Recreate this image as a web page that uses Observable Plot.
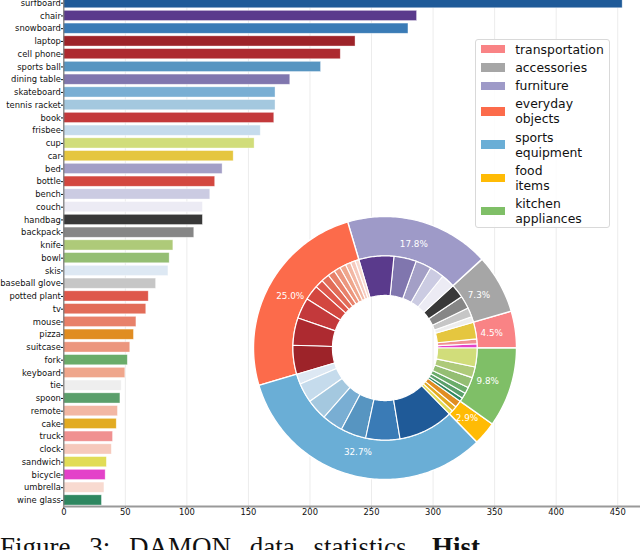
<!DOCTYPE html>
<html>
<head>
<meta charset="utf-8">
<script src="https://cdn.jsdelivr.net/npm/d3@7"></script>
<script src="https://cdn.jsdelivr.net/npm/@observablehq/plot@0.6"></script>
<style>
  html, body { margin: 0; padding: 0; background: #fff; }
  body { width: 640px; height: 550px; overflow: hidden; position: relative; font-family: "DejaVu Sans", sans-serif; }
  #chart { position: absolute; left: 0; top: 0; }
  #donut { position: absolute; }
  #legend { position: absolute; left: 475px; top: 39px; width: 133px; padding: 1.8px 0 1px 0;
            border: 1px solid #d9d9d9; border-radius: 3px; background: rgba(255,255,255,0.85);
            font-family: "DejaVu Sans", sans-serif; font-size: 12.4px; color: #111; }
  .entry { display: flex; align-items: center; margin-bottom: 3.2px; }
  .entry:last-child { margin-bottom: 0; }
  .patch { width: 23.6px; height: 8.3px; margin-left: 5.2px; margin-right: 10.4px; flex: none; }
  .lbl { line-height: 15px; }
  #caption { position: absolute; left: 0; top: 534px; white-space: nowrap;
             font-family: "Liberation Serif", "Times New Roman", serif; font-size: 27px; line-height: 27px;
             color: #111; word-spacing: 12px; }
</style>
</head>
<body>
<div id="chart"></div>
<div id="donut"></div>
<div id="legend"></div>
<div id="caption">Figure 3: DAMON data statistics. <b>Hist</b></div>
<script>
// ---------------- data ----------------
const categories = ["surfboard","chair","snowboard","laptop","cell phone","sports ball","dining table","skateboard","tennis racket","book",
  "frisbee","cup","car","bed","bottle","bench","couch","handbag","backpack","knife",
  "bowl","skis","baseball glove","potted plant","tv","mouse","pizza","suitcase","fork","keyboard",
  "tie","spoon","remote","cake","truck","clock","sandwich","bicycle","umbrella","wine glass"];
const counts = [454,287,280,237,225,209,184,172,172,171,
  160,155,138,129,123,119,113,113,106,89,
  86,85,75,69,67,59,57,54,52,50,
  47,46,44,43,40,39,35,34,33,31];
const barColors = ["#1f5a98","#5a3a8c","#3a7bb6","#9d2329","#ad2a30","#5795c1","#8076ae","#79aed3","#a4c8df","#c3393b",
  "#c5dbec","#d1dd7a","#e5c63f","#a39fc6","#d3473f","#cbcbe2","#ecebf4","#383838","#868686","#aeca79",
  "#94be73","#dde8f3","#c6c6c6","#de574b","#e26c58","#e8816a","#e08d22","#ec967e","#6aac6a","#efa68c",
  "#eeeeee","#5a9f6b","#f2b7a4","#e2ab22","#f09191","#f6c9bc","#e1dc57","#e342c9","#f8dad0","#2f8761"];
const categoryGroup = ["sports equipment","furniture","sports equipment","everyday objects","everyday objects","sports equipment","furniture","sports equipment","sports equipment","everyday objects",
  "sports equipment","kitchen appliances","transportation","furniture","everyday objects","furniture","furniture","accessories","accessories","kitchen appliances",
  "kitchen appliances","sports equipment","accessories","everyday objects","everyday objects","everyday objects","food items","everyday objects","kitchen appliances","everyday objects",
  "accessories","kitchen appliances","everyday objects","food items","transportation","everyday objects","food items","transportation","everyday objects","kitchen appliances"];
const groups = ["transportation","accessories","furniture","everyday objects","sports equipment","food items","kitchen appliances"];
const groupLabels = [["transportation"],["accessories"],["furniture"],["everyday","objects"],["sports","equipment"],["food","items"],["kitchen","appliances"]];
const groupColors = ["#f98385","#a6a6a6","#9e9ac8","#fc6b4b","#6aaed6","#ffbb05","#7fbf67"];
const xTicks = [0,50,100,150,200,250,300,350,400,450];

// ---------------- bar chart ----------------
const rows = categories.map((c, i) => ({name: c, count: counts[i], color: barColors[i], group: categoryGroup[i]}));

const bar = Plot.plot({
  width: 640, height: 525,
  marginLeft: 63.3, marginRight: 0, marginTop: 0, marginBottom: 19,
  style: {fontFamily: "DejaVu Sans, sans-serif", fontSize: "8.4px", color: "#111", background: "transparent", overflow: "visible"},
  x: {domain: [0, 468.5], ticks: xTicks, tickSize: 2, tickPadding: 0.8, label: null},
  y: {type: "band", domain: categories, range: [-3.7, 506.3], paddingInner: 0.2, paddingOuter: 0.1, round: false,
      tickSize: 2.3, tickPadding: 0.6, label: null},
  color: {type: "identity"},
  marks: [
    Plot.ruleX(xTicks, {stroke: "#ececec"}),
    Plot.barX(rows, {y: "name", x: "count", fill: "color", stroke: "white", strokeWidth: 0.7, strokeOpacity: 0.55}),
    Plot.frame({anchor: "left", stroke: "#777", strokeWidth: 1.2}),
    Plot.frame({anchor: "bottom", stroke: "#999", strokeWidth: 1.8})
  ]
});
document.getElementById("chart").appendChild(bar);

// ---------------- donut ----------------
const total = d3.sum(counts);
const outerSlices = [], innerSlices = [];
let ang = 0;
groups.forEach((g, gi) => {
  const members = rows.filter(r => r.group === g).reverse(); // ascending, counter-clockwise
  const sum = d3.sum(members, r => r.count);
  const a0 = ang;
  members.forEach(m => {
    const s = ang;
    ang += m.count / total * 2 * Math.PI;
    innerSlices.push({key: m.name, a0: s, a1: ang, color: m.color});
  });
  outerSlices.push({key: g, a0, a1: ang, color: groupColors[gi], pct: (sum / total * 100).toFixed(1) + "%"});
});
function ring(slices, r0, r1) {
  const pts = [];
  for (const s of slices) {
    const n = Math.max(2, Math.ceil((s.a1 - s.a0) / (Math.PI / 180)));
    for (let k = 0; k <= n; k++) { const t = s.a0 + (s.a1 - s.a0) * k / n; pts.push({key: s.key, color: s.color, x: r1 * Math.cos(t), y: r1 * Math.sin(t)}); }
    for (let k = n; k >= 0; k--) { const t = s.a0 + (s.a1 - s.a0) * k / n; pts.push({key: s.key, color: s.color, x: r0 * Math.cos(t), y: r0 * Math.sin(t)}); }
  }
  return pts;
}
const R = 131.5, cx = 384.7, cy = 347, m = 3;
const S = 2 * R + 2 * m;
const donutDiv = document.getElementById("donut");
donutDiv.style.left = (cx - R - m) + "px";
donutDiv.style.top = (cy - R - m) + "px";
const donut = Plot.plot({
  width: S, height: S, margin: m,
  style: {fontFamily: "DejaVu Sans, sans-serif", background: "transparent", overflow: "visible"},
  x: {domain: [-1, 1], axis: null},
  y: {domain: [-1, 1], axis: null},
  color: {type: "identity"},
  marks: [
    Plot.line(ring(outerSlices, 0.7, 1), {x: "x", y: "y", z: "key", fill: "color", stroke: "white", strokeWidth: 1.4, curve: "linear-closed"}),
    Plot.line(ring(innerSlices, 0.4, 0.7), {x: "x", y: "y", z: "key", fill: "color", stroke: "white", strokeWidth: 1.1, curve: "linear-closed"}),
    Plot.text(outerSlices, {x: d => 0.82 * Math.cos((d.a0 + d.a1) / 2), y: d => 0.82 * Math.sin((d.a0 + d.a1) / 2),
      text: "pct", fill: "white", fontSize: 8.8})
  ]
});
donutDiv.appendChild(donut);

// ---------------- legend ----------------
const legend = d3.select("#legend");
groups.forEach((g, i) => {
  const e = legend.append("div").attr("class", "entry");
  e.append("div").attr("class", "patch").style("background", groupColors[i]);
  e.append("div").attr("class", "lbl").html(groupLabels[i].join("<br>"));
});
</script>
</body>
</html>
